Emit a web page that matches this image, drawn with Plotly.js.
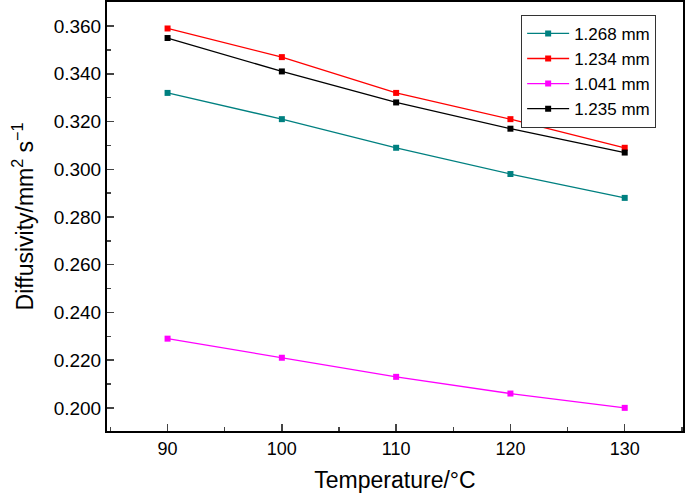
<!DOCTYPE html>
<html>
<head>
<meta charset="utf-8">
<script src="https://cdn.plot.ly/plotly-3.0.1.min.js"></script>
<style>html,body{margin:0;padding:0;background:#fff}#chart{width:685px;height:496px}</style>
</head>
<body>
<div id="chart"></div>
<script>
const temperature = [90, 100, 110, 120, 130];
const seriesNames = ["1.268 mm", "1.234 mm", "1.041 mm", "1.235 mm"];
const s1268 = [0.332, 0.321, 0.309, 0.298, 0.288];
const s1234 = [0.359, 0.347, 0.332, 0.321, 0.309];
const s1041 = [0.229, 0.221, 0.213, 0.206, 0.200];
const s1235 = [0.355, 0.341, 0.328, 0.317, 0.307];
const colors = ["#008080", "#ff0000", "#ff00ff", "#000000"];
const allSeries = [s1268, s1234, s1041, s1235];

const traces = allSeries.map((ys, i) => ({
  x: temperature, y: ys, name: seriesNames[i], type: 'scatter', mode: 'lines+markers',
  line: {color: colors[i], width: 1.3},
  marker: {color: colors[i], symbol: 'square', size: 6}
}));

const font = "Liberation Sans, Arial, sans-serif";
const layout = {
  width: 685, height: 496,
  margin: {l: 107, r: 2, t: 2, b: 65},
  paper_bgcolor: '#fff', plot_bgcolor: '#fff',
  font: {family: font, color: '#000', size: 18},
  showlegend: true,
  legend: {x: 0.719, y: 0.97, xanchor: 'left', yanchor: 'top', bordercolor: '#333', borderwidth: 1,
    bgcolor: '#fff', font: {size: 17, family: font}, tracegroupgap: 0, itemwidth: 42},
  xaxis: {
    range: [84.7, 135.1], tickvals: [90, 100, 110, 120, 130], ticks: 'inside', ticklen: 7, tickwidth: 1.5,
    showline: true, linewidth: 2, linecolor: '#000', mirror: true, showgrid: false, zeroline: false,
    minor: {dtick: 5, ticks: 'inside', ticklen: 4, tickwidth: 1.5, showgrid: false},
    title: {text: 'Temperature/°C', font: {size: 23}, standoff: 14},
    tickfont: {size: 18}
  },
  yaxis: {
    range: [0.1903, 0.3701], tickvals: [0.2, 0.22, 0.24, 0.26, 0.28, 0.3, 0.32, 0.34, 0.36], tickformat: '.3f',
    ticks: 'inside', ticklen: 7, tickwidth: 1.5,
    showline: true, linewidth: 2, linecolor: '#000', mirror: true, showgrid: false, zeroline: false,
    minor: {dtick: 0.01, ticks: 'inside', ticklen: 4, tickwidth: 1.5, showgrid: false},
    title: {text: 'Diffusivity/mm<sup>2</sup> s<sup>−1</sup>', font: {size: 23}, standoff: 14},
    tickfont: {size: 19}
  }
};
Plotly.newPlot('chart', traces, layout, {displayModeBar: false, staticPlot: true});
</script>
</body>
</html>
